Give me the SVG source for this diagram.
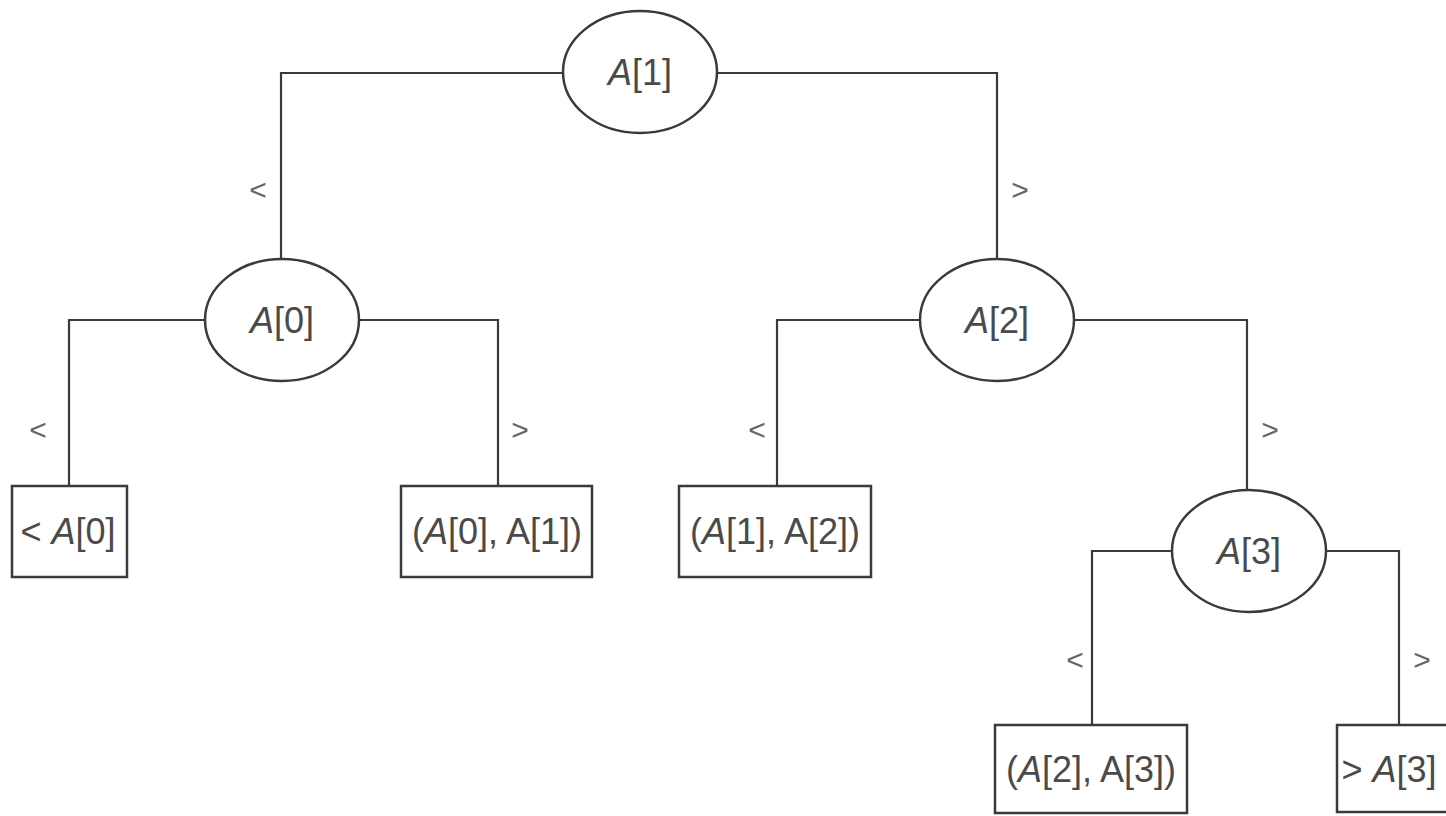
<svg xmlns="http://www.w3.org/2000/svg" width="1446" height="816" viewBox="0 0 1446 816">
<style>
.n{fill:#fff;stroke:#3a3a3a;stroke-width:2.5}
.c{fill:none;stroke:#3a3a3a;stroke-width:2.2}
.t{font-family:"Liberation Sans",Arial,sans-serif;font-size:36px;fill:#4a4a4a;text-anchor:middle}
.i{font-style:italic}
.l{font-family:"Liberation Sans",Arial,sans-serif;font-size:30px;fill:#666;text-anchor:middle}
</style>
<rect width="1446" height="816" fill="#fff"/>
<g id="connectors">
<polyline class="c" points="563,73 281,73 281,259"/>
<polyline class="c" points="717,73 997,73 997,259"/>
<polyline class="c" points="205,320 69,320 69,486"/>
<polyline class="c" points="359,320 498,320 498,486"/>
<polyline class="c" points="920,320 777,320 777,486"/>
<polyline class="c" points="1074,320 1247,320 1247,491"/>
<polyline class="c" points="1172,551 1092,551 1092,725"/>
<polyline class="c" points="1326,551 1399,551 1399,725"/>
<text class="l" x="258" y="200">&lt;</text>
<text class="l" x="1020" y="200">&gt;</text>
<text class="l" x="38" y="440">&lt;</text>
<text class="l" x="520" y="440">&gt;</text>
<text class="l" x="757" y="440">&lt;</text>
<text class="l" x="1270" y="440">&gt;</text>
<text class="l" x="1075" y="670">&lt;</text>
<text class="l" x="1422" y="670">&gt;</text>
</g>
<g id="n-a1"><ellipse class="n" cx="640" cy="72" rx="77" ry="61"/><text class="t" x="640" y="85"><tspan class="i">A</tspan>[1]</text></g>
<g id="n-a0"><ellipse class="n" cx="282" cy="320" rx="77" ry="61"/><text class="t" x="282" y="333"><tspan class="i">A</tspan>[0]</text></g>
<g id="n-a2"><ellipse class="n" cx="997" cy="320" rx="77" ry="61"/><text class="t" x="997" y="333"><tspan class="i">A</tspan>[2]</text></g>
<g id="n-a3"><ellipse class="n" cx="1249" cy="551" rx="77" ry="61"/><text class="t" x="1249" y="564"><tspan class="i">A</tspan>[3]</text></g>
<g id="b-lt-a0"><rect class="n" x="12" y="486" width="115" height="91"/><text class="t" x="68" y="544">&lt; <tspan class="i">A</tspan>[0]</text></g>
<g id="b-a0-a1"><rect class="n" x="401" y="486" width="191" height="91"/><text class="t" x="497" y="544">(<tspan class="i">A</tspan>[0], A[1])</text></g>
<g id="b-a1-a2"><rect class="n" x="679" y="486" width="192" height="91"/><text class="t" x="775" y="544">(<tspan class="i">A</tspan>[1], A[2])</text></g>
<g id="b-a2-a3"><rect class="n" x="995" y="725" width="192" height="88"/><text class="t" x="1091" y="782">(<tspan class="i">A</tspan>[2], A[3])</text></g>
<g id="b-gt-a3"><rect class="n" x="1337" y="725" width="112" height="87"/><text class="t" x="1389" y="782">&gt; <tspan class="i">A</tspan>[3]</text></g>
</svg>
